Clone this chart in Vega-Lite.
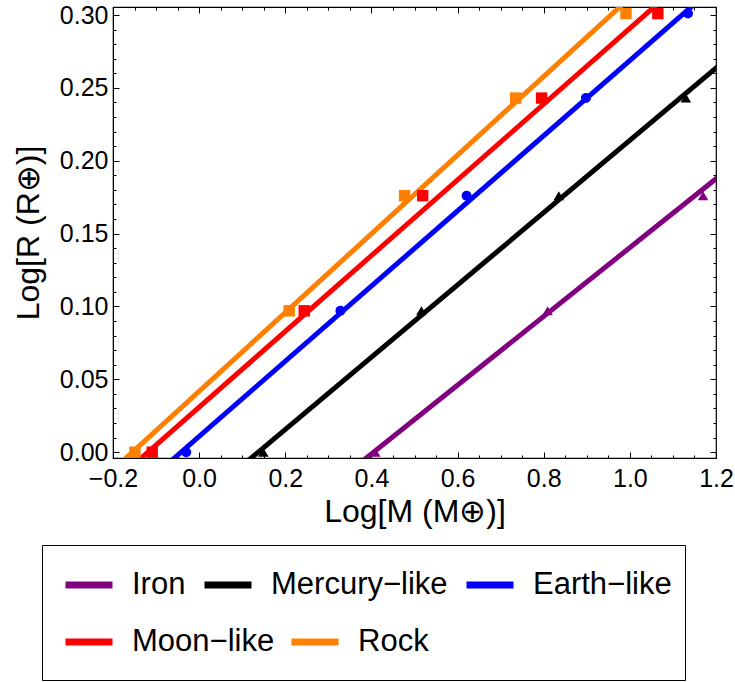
{
  "$schema": "https://vega.github.io/schema/vega-lite/v6.json",
  "width": 603,
  "height": 451,
  "autosize": {"type": "none"},
  "padding": {"left": 113, "top": 7, "right": 19, "bottom": 224},
  "background": "white",
  "config": {
    "view": {"stroke": "black", "strokeWidth": 1.2},
    "font": "Liberation Sans",
    "axis": {"labelFont": "Liberation Sans", "titleFont": "Liberation Sans", "labelColor": "black", "titleColor": "black", "tickColor": "black", "domainColor": "black", "grid": false, "titleFontWeight": "normal"}
  },
  "datasets": {
    "lines": [
      {"material": "Iron", "logM": -0.25, "logR": -0.1546},
      {"material": "Iron", "logM": 1.25, "logR": 0.1994},
      {"material": "Mercury−like", "logM": -0.25, "logR": -0.096},
      {"material": "Mercury−like", "logM": 1.25, "logR": 0.276},
      {"material": "Earth−like", "logM": -0.25, "logR": -0.0537},
      {"material": "Earth−like", "logM": 1.25, "logR": 0.3333},
      {"material": "Moon−like", "logM": -0.25, "logR": -0.0341},
      {"material": "Moon−like", "logM": 1.25, "logR": 0.3559},
      {"material": "Rock", "logM": -0.25, "logR": -0.0257},
      {"material": "Rock", "logM": 1.25, "logR": 0.3794}
    ],
    "points": [
      {"material": "Rock", "logM": -0.149, "logR": 0.0},
      {"material": "Rock", "logM": 0.209, "logR": 0.097},
      {"material": "Rock", "logM": 0.477, "logR": 0.176},
      {"material": "Rock", "logM": 0.735, "logR": 0.243},
      {"material": "Rock", "logM": 0.991, "logR": 0.301},
      {"material": "Moon−like", "logM": -0.109, "logR": 0.0},
      {"material": "Moon−like", "logM": 0.244, "logR": 0.097},
      {"material": "Moon−like", "logM": 0.519, "logR": 0.176},
      {"material": "Moon−like", "logM": 0.795, "logR": 0.243},
      {"material": "Moon−like", "logM": 1.065, "logR": 0.301},
      {"material": "Earth−like", "logM": -0.03, "logR": 0.0},
      {"material": "Earth−like", "logM": 0.328, "logR": 0.097},
      {"material": "Earth−like", "logM": 0.621, "logR": 0.176},
      {"material": "Earth−like", "logM": 0.898, "logR": 0.243},
      {"material": "Earth−like", "logM": 1.135, "logR": 0.301},
      {"material": "Mercury−like", "logM": 0.149, "logR": 0.0},
      {"material": "Mercury−like", "logM": 0.516, "logR": 0.097},
      {"material": "Mercury−like", "logM": 0.835, "logR": 0.176},
      {"material": "Mercury−like", "logM": 1.13, "logR": 0.243},
      {"material": "Iron", "logM": 0.409, "logR": 0.0},
      {"material": "Iron", "logM": 0.809, "logR": 0.097},
      {"material": "Iron", "logM": 1.17, "logR": 0.176}
    ]
  },
  "resolve": {"axis": {"x": "independent", "y": "independent"}},
  "layer": [
    {
      "data": {"name": "lines"},
      "transform": [{"filter": "datum.material === 'Iron' || datum.material === 'Mercury−like' || datum.material === 'Earth−like'"}],
      "mark": {"type": "line", "strokeWidth": 5, "clip": true},
      "encoding": {
        "x": {"field": "logM", "type": "quantitative",
          "scale": {"domain": [-0.2, 1.2], "nice": false, "zero": false},
          "axis": {"orient": "bottom", "values": [-0.2, 0, 0.2, 0.4, 0.6, 0.8, 1.0, 1.2], "format": ".1f", "tickSize": -6, "labelPadding": 14, "labelFontSize": 25, "title": "Log[M (M⊕)]", "titleFontSize": 32, "titlePadding": 5, "labelFlush": false}},
        "y": {"field": "logR", "type": "quantitative",
          "scale": {"domain": [-0.004, 0.3055], "nice": false, "zero": false},
          "axis": {"orient": "left", "values": [0, 0.05, 0.1, 0.15, 0.2, 0.25, 0.3], "format": ".2f", "tickSize": -6, "labelPadding": 11, "labelFontSize": 25, "title": "Log[R (R⊕)]", "titleFontSize": 32, "titlePadding": 14, "labelFlush": false}},
        "color": {"field": "material", "type": "nominal",
          "scale": {"domain": ["Iron", "Mercury−like", "Earth−like"], "range": ["#800080", "#000000", "#0000FF"]},
          "legend": {"orient": "none", "legendX": -71, "legendY": 538, "title": "\u00a0\u00a0\u00a0\u00a0\u00a0\u00a0\u00a0\u00a0\u00a0\u00a0\u00a0\u00a0\u00a0\u00a0\u00a0\u00a0\u00a0\u00a0\u00a0\u00a0\u00a0\u00a0\u00a0\u00a0\u00a0\u00a0\u00a0\u00a0\u00a0\u00a0\u00a0\u00a0\u00a0\u00a0\u00a0\u00a0\u00a0\u00a0\u00a0\u00a0\u00a0\u00a0\u00a0\u00a0\u00a0\u00a0\u00a0\u00a0\u00a0\u00a0\u00a0\u00a0\u00a0\u00a0\u00a0\u00a0\u00a0", "titleOrient": "bottom", "titleFontSize": 40, "titlePadding": 27, "titleLimit": 1000, "direction": "horizontal", "symbolType": "stroke", "symbolSize": 2209, "symbolStrokeWidth": 7, "symbolOffset": 7, "labelFontSize": 31, "labelFont": "Liberation Sans", "labelColor": "black", "labelOffset": 16, "labelLimit": 400, "columnPadding": 4, "padding": 13, "strokeColor": "black", "fillColor": "white"}}
      }
    },
    {
      "data": {"name": "lines"},
      "transform": [{"filter": "datum.material === 'Moon−like' || datum.material === 'Rock'"}],
      "mark": {"type": "line", "strokeWidth": 5, "clip": true},
      "encoding": {
        "x": {"field": "logM", "type": "quantitative", "axis": null},
        "y": {"field": "logR", "type": "quantitative", "axis": null},
        "stroke": {"field": "material", "type": "nominal",
          "scale": {"domain": ["Moon−like", "Rock"], "range": ["#FF0000", "#FF8000"]},
          "legend": {"orient": "none", "legendX": -51, "legendY": 608, "title": null, "direction": "horizontal", "symbolType": "stroke", "symbolSize": 2209, "symbolStrokeWidth": 7, "labelFontSize": 31, "labelFont": "Liberation Sans", "labelColor": "black", "labelOffset": 16, "labelLimit": 400, "columnPadding": 2, "padding": 0}}
      }
    },
    {
      "data": {"name": "points"},
      "transform": [{"filter": "datum.material === 'Iron'"}],
      "mark": {"type": "point", "shape": "triangle-up", "filled": true, "opacity": 1, "size": 110, "color": "#800080", "clip": true},
      "encoding": {
        "x": {"field": "logM", "type": "quantitative",
          "axis": {"orient": "bottom", "values": [-0.15, -0.1, -0.05, 0.05, 0.1, 0.15, 0.25, 0.3, 0.35, 0.45, 0.5, 0.55, 0.65, 0.7, 0.75, 0.85, 0.9, 0.95, 1.05, 1.1, 1.15], "tickSize": -3, "labels": false, "domain": false, "title": null}},
        "y": {"field": "logR", "type": "quantitative",
          "axis": {"orient": "left", "values": [0.01, 0.02, 0.03, 0.04, 0.06, 0.07, 0.08, 0.09, 0.11, 0.12, 0.13, 0.14, 0.16, 0.17, 0.18, 0.19, 0.21, 0.22, 0.23, 0.24, 0.26, 0.27, 0.28, 0.29], "tickSize": -3, "labels": false, "domain": false, "title": null}}
      }
    },
    {
      "data": {"name": "points"},
      "transform": [{"filter": "datum.material === 'Mercury−like'"}],
      "mark": {"type": "point", "shape": "triangle-up", "filled": true, "opacity": 1, "size": 110, "color": "#000000", "clip": true},
      "encoding": {
        "x": {"field": "logM", "type": "quantitative", "axis": null},
        "y": {"field": "logR", "type": "quantitative", "axis": null}
      }
    },
    {
      "data": {"name": "points"},
      "transform": [{"filter": "datum.material === 'Earth−like'"}],
      "mark": {"type": "point", "shape": "circle", "filled": true, "opacity": 1, "size": 100, "color": "#0000FF", "clip": true},
      "encoding": {
        "x": {"field": "logM", "type": "quantitative", "axis": null},
        "y": {"field": "logR", "type": "quantitative", "axis": null}
      }
    },
    {
      "data": {"name": "points"},
      "transform": [{"filter": "datum.material === 'Moon−like'"}],
      "mark": {"type": "point", "shape": "square", "filled": true, "opacity": 1, "size": 130, "color": "#FF0000", "clip": true},
      "encoding": {
        "x": {"field": "logM", "type": "quantitative", "axis": null},
        "y": {"field": "logR", "type": "quantitative", "axis": null}
      }
    },
    {
      "data": {"name": "points"},
      "transform": [{"filter": "datum.material === 'Rock'"}],
      "mark": {"type": "point", "shape": "square", "filled": true, "opacity": 1, "size": 130, "color": "#FF8000", "clip": true},
      "encoding": {
        "x": {"field": "logM", "type": "quantitative",
          "axis": {"orient": "top", "values": [-0.2, 0, 0.2, 0.4, 0.6, 0.8, 1.0, 1.2], "tickSize": -6, "labels": false, "domain": false, "title": null}},
        "y": {"field": "logR", "type": "quantitative",
          "axis": {"orient": "right", "values": [0, 0.05, 0.1, 0.15, 0.2, 0.25, 0.3], "tickSize": -6, "labels": false, "domain": false, "title": null}}
      }
    },
    {
      "data": {"name": "points"},
      "mark": {"type": "point", "opacity": 0},
      "encoding": {
        "x": {"field": "logM", "type": "quantitative",
          "axis": {"orient": "top", "values": [-0.15, -0.1, -0.05, 0.05, 0.1, 0.15, 0.25, 0.3, 0.35, 0.45, 0.5, 0.55, 0.65, 0.7, 0.75, 0.85, 0.9, 0.95, 1.05, 1.1, 1.15], "tickSize": -3, "labels": false, "domain": false, "title": null}},
        "y": {"field": "logR", "type": "quantitative",
          "axis": {"orient": "right", "values": [0.01, 0.02, 0.03, 0.04, 0.06, 0.07, 0.08, 0.09, 0.11, 0.12, 0.13, 0.14, 0.16, 0.17, 0.18, 0.19, 0.21, 0.22, 0.23, 0.24, 0.26, 0.27, 0.28, 0.29], "tickSize": -3, "labels": false, "domain": false, "title": null}}
      }
    }
  ]
}
